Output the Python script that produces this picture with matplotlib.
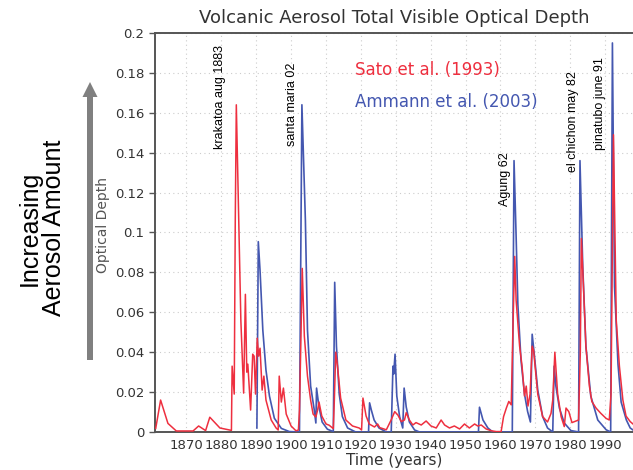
import matplotlib
matplotlib.use("Agg")
import matplotlib.pyplot as plt
import numpy as np

# Sato et al. (1993) optical depth, read as (year, tau) pairs
sato_years = [1861.2, 1862.6, 1864.7, 1867.1, 1871.9, 1873.5, 1875.5, 1876.7, 1879.6, 1882.9,
              1883.1, 1883.7, 1884.0, 1884.3, 1885.0, 1885.6, 1886.4, 1886.9, 1887.3, 1887.6,
              1888.4, 1889.0, 1889.4, 1889.8, 1890.3, 1890.7, 1891.1, 1891.7, 1892.2, 1892.8,
              1894.3, 1895.7, 1896.3, 1896.6, 1897.2, 1897.8, 1898.6, 1900.0, 1901.4, 1902.1,
              1902.4, 1902.8, 1903.2, 1903.8, 1904.7, 1905.6, 1906.3, 1907.1, 1907.6, 1908.0,
              1908.8, 1910.0, 1910.9, 1912.1, 1912.4, 1912.8, 1913.3, 1914.2, 1915.7, 1917.6,
              1919.5, 1920.2, 1920.6, 1921.5, 1922.4, 1923.9, 1924.8, 1925.4, 1927.3, 1928.7,
              1929.7, 1930.6, 1931.6, 1932.5, 1933.0, 1933.9, 1934.9, 1935.8, 1937.3, 1938.7,
              1940.1, 1941.6, 1943.0, 1944.0, 1945.4, 1946.8, 1948.3, 1949.7, 1951.1, 1952.6,
              1953.5, 1954.5, 1955.9, 1957.4, 1958.8, 1960.2, 1960.9, 1961.7, 1962.4, 1963.1,
              1963.6, 1964.1, 1964.5, 1965.5, 1966.2, 1966.9, 1967.4, 1967.9, 1968.5, 1969.1,
              1969.5, 1970.7, 1972.1, 1973.5, 1974.5, 1975.0, 1975.6, 1976.4, 1977.4, 1978.3,
              1978.8, 1979.6, 1980.5, 1981.7, 1982.4, 1982.9, 1983.2, 1983.8, 1984.5, 1985.5,
              1986.2, 1987.4, 1988.8, 1990.3, 1991.2, 1991.7, 1992.4, 1993.2, 1994.1, 1995.1,
              1996.0, 1997.2, 1998.0]
sato_tau = [0.0018, 0.016, 0.0043, 0.0005, 0.0005, 0.003, 0.0007, 0.0074, 0.002, 0.0008,
            0.033, 0.019, 0.106, 0.164, 0.106, 0.056, 0.0195, 0.069, 0.030, 0.034,
            0.011, 0.039, 0.038, 0.019, 0.047, 0.038, 0.042, 0.021, 0.028, 0.016,
            0.006, 0.002, 0.001, 0.028, 0.015, 0.022, 0.009, 0.003, 0.0006, 0.001,
            0.011, 0.045, 0.082, 0.048, 0.028, 0.016, 0.009, 0.0075, 0.011, 0.015,
            0.008, 0.004, 0.0034, 0.0017, 0.016, 0.040, 0.033, 0.017, 0.006, 0.003,
            0.002, 0.001, 0.017, 0.008, 0.004, 0.0025, 0.004, 0.0022, 0.0011, 0.0061,
            0.0102, 0.0085, 0.0052, 0.006, 0.0097, 0.006, 0.0035, 0.0047, 0.0035, 0.0055,
            0.003, 0.002, 0.006, 0.0035, 0.002, 0.003, 0.0015, 0.004, 0.002, 0.004,
            0.003, 0.0035, 0.0015, 0.0006, 0.0002, 0.0002, 0.0077, 0.012, 0.0153, 0.0136,
            0.053, 0.088, 0.066, 0.043, 0.033, 0.018, 0.023, 0.013, 0.019, 0.043,
            0.041, 0.019, 0.0077, 0.005, 0.0093, 0.016, 0.040, 0.019, 0.0077, 0.0027,
            0.012, 0.0102, 0.0047, 0.0055, 0.006, 0.040, 0.097, 0.073, 0.043, 0.023,
            0.0153, 0.012, 0.0093, 0.0068, 0.006, 0.019, 0.149, 0.056, 0.033, 0.016,
            0.008, 0.0052, 0.004]

# Ammann et al. (2003) optical depth, starts in 1890
ammann_years = [1890.2, 1890.6, 1891.1, 1891.9, 1892.8, 1893.8, 1895.2, 1897.2, 1899.5, 1902.4,
                1903.1, 1904.1, 1904.7, 1905.6, 1906.6, 1907.1, 1907.3, 1908.0, 1908.9, 1910.4,
                1912.1, 1912.5, 1913.0, 1913.8, 1914.7, 1916.2, 1918.5, 1922.2, 1922.5, 1923.0,
                1923.8, 1925.2, 1927.3, 1928.7, 1929.2, 1929.4, 1929.8, 1930.3, 1931.1, 1932.0,
                1932.4, 1933.0, 1933.9, 1935.4, 1936.8, 1953.7, 1954.0, 1955.0, 1956.4, 1957.8,
                1963.4, 1963.9, 1964.5, 1965.0, 1965.9, 1966.9, 1967.8, 1968.6, 1969.1, 1969.7,
                1970.7, 1972.1, 1973.5, 1975.0, 1975.4, 1975.9, 1976.9, 1978.3, 1980.2, 1982.4,
                1982.8, 1983.6, 1984.5, 1985.9, 1987.9, 1990.3, 1991.6, 1992.1, 1992.7, 1993.7,
                1994.6, 1996.1, 1997.2, 1998.0]
ammann_tau = [0.002, 0.0954, 0.081, 0.051, 0.031, 0.018, 0.0069, 0.0018, 0.0002, 0.0,
              0.164, 0.106, 0.051, 0.023, 0.0115, 0.0045, 0.022, 0.0125, 0.005, 0.0014,
              0.0002, 0.075, 0.043, 0.019, 0.0077, 0.002, 0.0, 0.0, 0.0146, 0.011,
              0.006, 0.002, 0.0, 0.0, 0.033, 0.029, 0.039, 0.018, 0.0077, 0.002,
              0.022, 0.0125, 0.005, 0.001, 0.0, 0.0, 0.0124, 0.006, 0.002, 0.0,
              0.0, 0.136, 0.098, 0.064, 0.036, 0.019, 0.0102, 0.005, 0.049, 0.039,
              0.021, 0.0077, 0.002, 0.0, 0.033, 0.023, 0.012, 0.0045, 0.0007, 0.0,
              0.136, 0.083, 0.043, 0.018, 0.006, 0.0011, 0.0, 0.195, 0.073, 0.034,
              0.015, 0.006, 0.002, 0.001]

# eruption labels, their year position and the top of each label
eruptions = ["krakatoa aug 1883", "santa maria 02", "Agung 62", "el chichon may 82", "pinatubo june 91"]
eruption_x = [1879.6, 1900.2, 1961.3, 1980.8, 1988.5]
eruption_top = [0.194, 0.185, 0.140, 0.181, 0.188]

red = "#ee2f3f"
blue = "#4457b0"

fig = plt.figure(figsize=(6.33, 4.70), dpi=100)
ax = fig.add_axes([0.2449, 0.0809, 0.7551, 0.8489])

ax.plot(ammann_years, ammann_tau, color=blue, lw=1.2, zorder=3)
ax.plot(sato_years, sato_tau, color=red, lw=1.1, zorder=4)

ax.set_xlim(1861, 1998)
ax.set_ylim(0, 0.2)
ax.set_xticks(np.arange(1870, 1991, 10))
ax.set_yticks(np.arange(0, 0.201, 0.02))
ax.set_yticklabels(["0", "0.02", "0.04", "0.06", "0.08", "0.1", "0.12", "0.14", "0.16", "0.18", "0.2"])
ax.tick_params(axis="y", length=4, width=1, color="#555555", labelsize=9.5, labelcolor="#333333")
ax.tick_params(axis="x", length=0, labelsize=9.5, labelcolor="#333333", pad=5)
ax.grid(True, ls=(0, (1, 3)), color="#cccccc", lw=0.8)

for side in ["left", "bottom", "top"]:
    ax.spines[side].set_color("#555555")
    ax.spines[side].set_linewidth(1.4)
ax.spines["right"].set_visible(False)

ax.set_title("Volcanic Aerosol Total Visible Optical Depth", fontsize=13, color="#333333", pad=7)
ax.set_xlabel("Time (years)", fontsize=11, color="#333333", labelpad=1)
ax.set_ylabel("Optical Depth", fontsize=10, color="#555555")
ax.yaxis.set_label_coords(-0.094, 0.52)

for name, x, top in zip(eruptions, eruption_x, eruption_top):
    ax.text(x, top, name, rotation=90, ha="center", va="top", fontsize=9,
            family="Liberation Sans", color="black")

ax.text(0.418, 0.895, "Sato et al. (1993)", transform=ax.transAxes, color=red, fontsize=12)
ax.text(0.418, 0.815, "Ammann et al. (2003)", transform=ax.transAxes, color=blue, fontsize=12)

# arrow and caption on the left
fig.patches.append(matplotlib.patches.FancyArrow(
    90 / 633, 1 - 360 / 470, 0, (360 - 82) / 470, width=6 / 633, head_width=15 / 633,
    head_length=15 / 470, length_includes_head=True, transform=fig.transFigure,
    color="#808080", lw=0))
fig.text(42 / 633, 1 - 228 / 470, "Increasing\nAerosol Amount", rotation=90, ha="center",
         va="center", fontsize=18, family="Liberation Sans", linespacing=1.0)

fig.savefig("out.png", dpi=100)
